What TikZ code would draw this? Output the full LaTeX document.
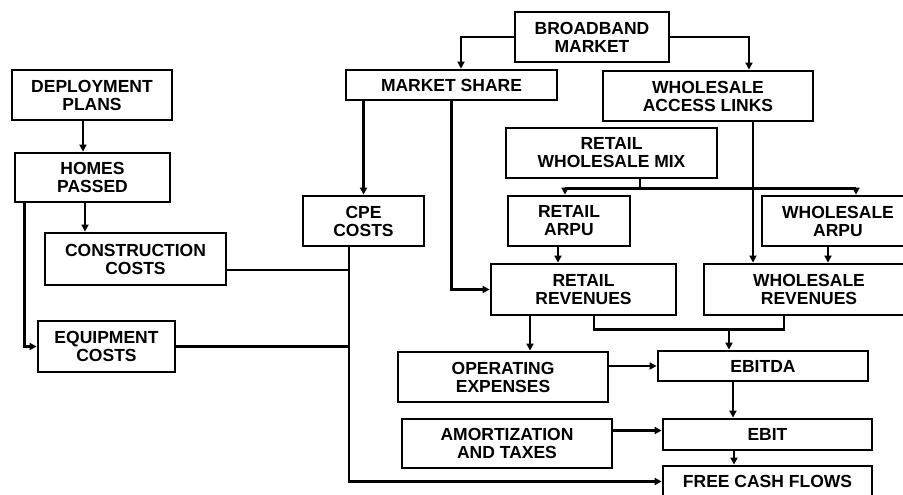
\documentclass[tikz,border=0pt]{standalone}
\usepackage{fontspec}
\setmainfont{Liberation Sans}
\usetikzlibrary{arrows.meta}
\tikzset{
	box/.style={draw, line width=2.8pt, align=center, inner sep=0pt, font=\fontsize{17.5}{18}\selectfont\bfseries},
	link/.style={line width=2.3pt},
	arr/.style={line width=2.3pt, -{Triangle[length=7pt,width=7pt]}}
}
\begin{document}
\begin{tikzpicture}[x=1pt,y=-1pt]
	\useasboundingbox (0,0) rectangle (903,495);
	\node[box, minimum width=160pt, minimum height=50pt] (deploy) at (92,95) {DEPLOYMENT\\PLANS};
	\node[box, minimum width=155pt, minimum height=49pt] (homes) at (92.5,177.5) {HOMES\\PASSED};
	\node[box, minimum width=181pt, minimum height=52pt] (constr) at (135.5,259) {CONSTRUCTION\\COSTS};
	\node[box, minimum width=137pt, minimum height=51pt] (equip) at (106.5,346.5) {EQUIPMENT\\COSTS};
	\node[box, minimum width=121pt, minimum height=50pt] (cpe) at (363.5,221) {CPE\\COSTS};
	\node[box, minimum width=211pt, minimum height=30pt] (share) at (451.5,85) {MARKET SHARE};
	\node[box, minimum width=154pt, minimum height=50pt] (market) at (592,37) {BROADBAND\\MARKET};
	\node[box, minimum width=210pt, minimum height=50pt] (links) at (708,96) {WHOLESALE\\ACCESS LINKS};
	\node[box, minimum width=211pt, minimum height=50pt] (mix) at (611.5,153) {RETAIL\\WHOLESALE MIX};
	\node[box, minimum width=122pt, minimum height=50pt] (rarpu) at (569,221) {RETAIL\\ARPU};
	\node[box, minimum width=152pt, minimum height=50pt] (warpu) at (838,221) {WHOLESALE\\ARPU};
	\node[box, minimum width=185pt, minimum height=51pt] (rrev) at (583.5,289.5) {RETAIL\\REVENUES};
	\node[box, minimum width=210pt, minimum height=51pt] (wrev) at (809,289.5) {WHOLESALE\\REVENUES};
	\node[box, minimum width=210pt, minimum height=50pt] (opex) at (503,377) {OPERATING\\EXPENSES};
	\node[box, minimum width=210pt, minimum height=30pt] (ebitda) at (763,366) {EBITDA};
	\node[box, minimum width=210pt, minimum height=49pt] (amort) at (507,443.5) {AMORTIZATION\\AND TAXES};
	\node[box, minimum width=209pt, minimum height=31pt] (ebit) at (767.5,434.5) {EBIT};
	\node[box, minimum width=209pt, minimum height=31pt] (fcf) at (767.5,481.5) {FREE CASH FLOWS};
	\coordinate (capex) at ([xshift=-14.5pt]cpe.south);
	\coordinate (mixout) at ([xshift=28.5pt]mix.south);
	\coordinate (sum) at ([xshift=10.5pt,yshift=-13pt]rrev.south);
	\coordinate (ebitdain) at ([xshift=-34pt]ebitda.north);
	\draw[arr] ([xshift=-9pt]deploy.south) -- ([xshift=-9pt]deploy.south |- homes.north);
	\draw[arr] ([xshift=-7.5pt]homes.south) -- ([xshift=-7.5pt]homes.south |- constr.north);
	\draw[arr] ([xshift=11pt]homes.south west) |- (equip.west);
	\draw[link] ([yshift=-11pt]constr.east) -- ([yshift=-11pt]constr.east -| capex);
	\draw[link] (equip.east) -- (equip.east -| capex);
	\draw[arr] (capex) |- (fcf.west);
	\draw[arr] (market.west) -| ([xshift=9.5pt]share.north);
	\draw[arr] (market.east) -| ([xshift=41pt]links.north);
	\draw[arr] (cpe.north |- share.south) -- (cpe.north);
	\draw[arr] (share.south) |- (rrev.west);
	\draw[arr] (mixout) -- ++(0,-9pt) -| ([xshift=-4pt]rarpu.north);
	\draw[arr] (mixout) -- ++(0,-9pt) -| ([xshift=18pt]warpu.north);
	\draw[arr] ([xshift=45pt]links.south) -- ([xshift=45pt]links.south |- wrev.north);
	\draw[arr] ([xshift=-11pt]rarpu.south) -- ([xshift=-11pt]rarpu.south |- rrev.north);
	\draw[arr] ([xshift=-10pt]warpu.south) -- ([xshift=-10pt]warpu.south |- wrev.north);
	\draw[arr] ([xshift=-53.5pt]rrev.south) -- ([xshift=-53.5pt]rrev.south |- opex.north);
	\draw[link] ([xshift=10.5pt]rrev.south) -- (sum) -| ([xshift=-25pt]wrev.south);
	\draw[arr] (sum -| ebitdain) -- (ebitdain);
	\draw[arr] (opex.east |- ebitda.west) -- (ebitda.west);
	\draw[arr] ([xshift=-30pt]ebitda.south) -- ([xshift=-30pt]ebitda.south |- ebit.north);
	\draw[arr] ([yshift=4pt]amort.east |- ebit.west) -- ([yshift=4pt]ebit.west);
	\draw[arr] ([xshift=-33.5pt]ebit.south) -- ([xshift=-33.5pt]ebit.south |- fcf.north);
\end{tikzpicture}
\end{document}
